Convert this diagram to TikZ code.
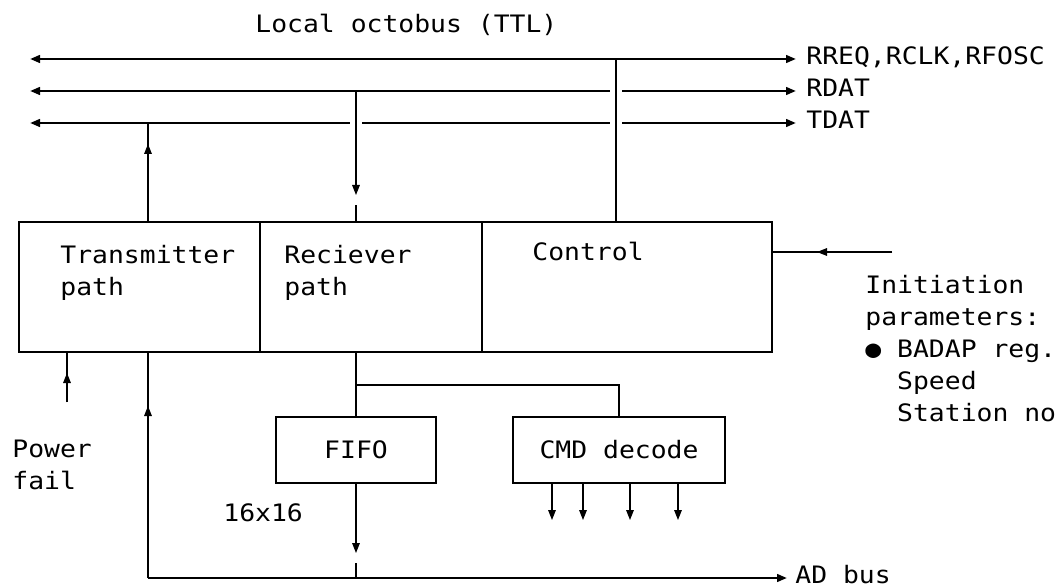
\documentclass[tikz,border=0pt]{standalone}
\usepackage{fontspec}
\setmonofont[FakeStretch=1.1]{DejaVu Sans Mono}
\usetikzlibrary{positioning,arrows.meta}

\begin{document}
\begin{tikzpicture}[x=0.5pt,y=-0.5pt,
    >={Triangle[length=5pt,width=3.8pt]},
    lbl/.style={font=\ttfamily\fontsize{12pt}{16pt}\selectfont, inner sep=0pt, align=left},
    blk/.style={rectangle, draw, line width=0.9pt, inner sep=0pt, outer sep=0pt,
      font=\ttfamily\fontsize{12pt}{16pt}\selectfont},
    bus/.style={line width=1.2pt},
    wire/.style={line width=0.6pt}]
  \useasboundingbox (0,0) rectangle (1058,587);

  % the three blocks of the station
  \node[blk, minimum width=120.5pt, minimum height=65pt, anchor=north west] (tx) at (19,222) {};
  \node[blk, minimum width=111pt, minimum height=65pt, right=0pt of tx] (rx) {};
  \node[blk, minimum width=145pt, minimum height=65pt, right=0pt of rx] (ctl) {};
  \node[lbl, below right=11.5pt and 20.5pt of tx.north west] {Transmitter\\path};
  \node[lbl, below right=11.5pt and 12pt of rx.north west] {Reciever\\path};
  \node[lbl, below right=10pt and 25pt of ctl.north west] {Control};

  \node[blk, minimum width=80pt, minimum height=33pt] (fifo) at (356,450) {FIFO};
  \node[blk, minimum width=106pt, minimum height=33pt] (cmd) at (619,450) {CMD decode};
  \node[lbl, anchor=north west] at (223,503) {16x16};

  % octobus
  \node[lbl, anchor=base west] at (255,33) {Local octobus (TTL)};
  \coordinate (b1w) at (30,59);  \coordinate (b1e) at (796,59);
  \coordinate (b2w) at (30,91);  \coordinate (b2e) at (796,91);
  \coordinate (b3w) at (30,123); \coordinate (b3e) at (796,123);
  \coordinate (tc) at (616,59);
  \coordinate (tr) at (356,91);
  \coordinate (tt) at (148,123);

  \draw[bus,<->] (b1w) -- (b1e);
  \draw[bus,<-] (b2w) -- ([xshift=-3pt]b2w -| tc);
  \draw[bus,->] ([xshift=3pt]b2w -| tc) -- (b2e);
  \draw[bus,<-] (b3w) -- ([xshift=-3pt]b3w -| tr);
  \draw[bus] ([xshift=3pt]b3w -| tr) -- ([xshift=-3pt]b3w -| tc);
  \draw[bus,->] ([xshift=3pt]b3w -| tc) -- (b3e);

  \node[lbl, anchor=base west] at ([xshift=5pt,yshift=-3pt]b1e) {RREQ,RCLK,RFOSC};
  \node[lbl, anchor=base west] at ([xshift=5pt,yshift=-3pt]b2e) {RDAT};
  \node[lbl, anchor=base west] at ([xshift=5pt,yshift=-3pt]b3e) {TDAT};

  % taps down to the blocks
  \draw[wire] (tt |- tx.north) -- (tt);
  \draw[wire,->] (tt |- tx.north) -- ++(0,-78);
  \draw[wire,->] (tr) -- ++(0,104);
  \draw[wire] (tr |- rx.north) -- ++(0,-17);
  \draw[wire] (tc) -- (tc |- ctl.north);

  % initiation parameters
  \coordinate (ini) at (892,252);
  \draw[wire] (ini) -- (ini -| ctl.east);
  \draw[wire,->] (ini) -- ++(-75,0);
  \node[lbl, anchor=north west] at (865,275)
    {Initiation\\parameters:\\● BADAP reg.\\\hphantom{● }Speed\\\hphantom{● }Station no};

  % power fail
  \coordinate (pf) at (67,402);
  \draw[wire] (pf) -- (pf |- tx.south);
  \draw[wire,->] (pf) -- ++(0,-29);
  \node[lbl, anchor=north west] at (12,440) {Power\\fail};

  % receiver to fifo and command decoder
  \coordinate (br) at (356,385);
  \draw[wire] (tr |- rx.south) -- (fifo.north);
  \draw[wire] (br) -- (br -| cmd.north) -- (cmd.north);
  \foreach \dx in {19.5,35,58.5,82.5}
    \draw[wire,->] ([xshift=\dx pt]cmd.south west) -- ++(0,37);

  % AD bus
  \coordinate (adc) at (148,578);
  \coordinate (ade) at (787,578);
  \draw[bus,->] (adc) -- (ade);
  \draw[wire] (adc) -- (adc |- tx.south);
  \draw[wire,->] (adc) -- ++(0,-172);
  \draw[wire,->] (fifo.south) -- ++(0,70);
  \draw[wire] (fifo.south |- adc) -- ++(0,-15);
  \node[lbl, anchor=base west] at ([xshift=4pt,yshift=-2.5pt]ade) {AD bus};
\end{tikzpicture}
\end{document}
